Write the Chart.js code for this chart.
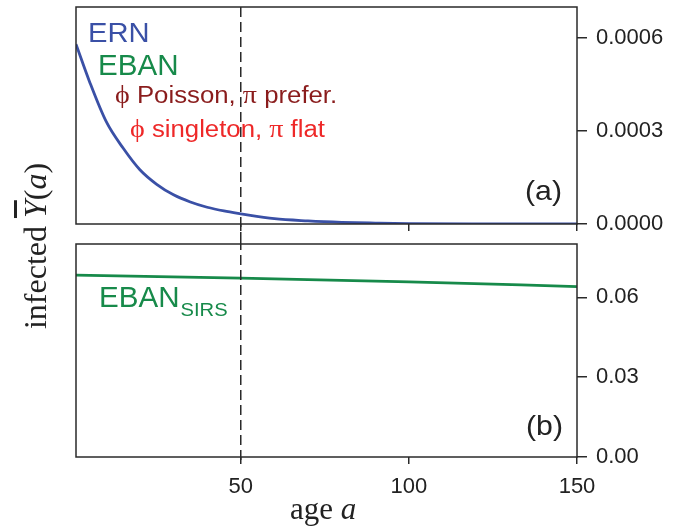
<!DOCTYPE html>
<html lang="en">
<head>
    <meta charset="UTF-8">
    <title>Infected by age</title>
    <script src="https://cdn.jsdelivr.net/npm/chart.js"></script>
    <style>
        body { margin: 0; background: #fff; }
        .container { position: relative; width: 695px; height: 530px; background: #fff; overflow: hidden; }
        canvas { position: absolute; left: 0; }
        #chartA { top: 0; }
        #chartB { top: 240px; }
        .ytitle {
            position: absolute; left: -115px; top: 226px; width: 300px; height: 40px;
            line-height: 40px; text-align: center; transform: rotate(-90deg);
            font-family: 'Liberation Serif', 'DejaVu Serif', serif; font-size: 32px; color: #222;
        }
        .ytitle .bar { text-decoration: overline; font-style: italic; }
    </style>
</head>
<body>
    <div class="container">
        <canvas id="chartA" width="695" height="240"></canvas>
        <canvas id="chartB" width="695" height="290"></canvas>
        <div class="ytitle">infected <span class="bar">Y</span>(<i>a</i>)</div>
    </div>
    <script>
        // values
        const ages = [1, 5, 10, 15, 20, 25, 30, 35, 40, 45, 50, 60, 70, 80, 90, 100, 125, 150];
        const ernValues = [0.00058, 0.00046, 0.00033, 0.000245, 0.000175, 0.000128, 0.000094, 0.000071,
            0.000054, 0.000042, 0.000033, 0.000017, 0.00001, 0.0000055, 0.000003, 0.0000012, 0.0000004, 0.0000001];
        const sirsAges = [1, 50, 100, 150];
        const sirsValues = [0.0683, 0.0672, 0.0658, 0.0640];
        const ageTicks = [50, 100, 150];
        const ticksA = [0, 0.0003, 0.0006];
        const ticksB = [0, 0.03, 0.06];
        const markerAge = 50;

        const SANS = "'Liberation Sans', Arial, sans-serif";
        const SERIF = "'Liberation Serif', 'DejaVu Serif', serif";
        const INK = '#2a2a2a';

        // text in the original is a little wider than it is tall, so stretch it a bit
        function drawRuns(ctx, x, y, runs, sx) {
            ctx.save();
            ctx.translate(x, y);
            ctx.scale(sx || 1, 1);
            let cx = 0;
            runs.forEach(r => {
                ctx.font = r.font;
                ctx.fillStyle = r.color;
                ctx.fillText(r.t, cx, 0);
                cx += ctx.measureText(r.t).width;
            });
            ctx.restore();
            return cx * (sx || 1);
        }

        function framePlugin(dashFrom, dashTo, drawTexts) {
            return {
                id: 'frame',
                afterDatasetsDraw(chart) {
                    const ctx = chart.ctx;
                    const a = chart.chartArea;
                    const xp = chart.scales.x.getPixelForValue(markerAge);
                    ctx.save();
                    ctx.strokeStyle = INK;
                    ctx.lineWidth = 1.5;
                    ctx.setLineDash([10, 5]);
                    ctx.beginPath();
                    ctx.moveTo(xp, dashFrom(a));
                    ctx.lineTo(xp, dashTo(a));
                    ctx.stroke();
                    ctx.setLineDash([]);
                    ctx.strokeRect(a.left, a.top, a.right - a.left, a.bottom - a.top);
                    ctx.textBaseline = 'alphabetic';
                    drawTexts(ctx, a);
                    ctx.restore();
                }
            };
        }

        function xScale(showLabels, h) {
            return {
                type: 'linear', min: 1, max: 150,
                afterBuildTicks: s => { s.ticks = ageTicks.map(v => ({ value: v })); },
                grid: { drawOnChartArea: false, tickLength: 7, color: INK, lineWidth: 1.5 },
                border: { display: false },
                ticks: {
                    display: showLabels, padding: 10, maxRotation: 0,
                    color: '#222', font: { family: SANS, size: 22 },
                    callback: v => String(v)
                },
                afterFit: s => { s.height = h; s.paddingLeft = 0; s.paddingRight = 0; }
            };
        }

        function yScale(max, ticks, digits) {
            return {
                position: 'right', min: 0, max: max,
                afterBuildTicks: s => { s.ticks = ticks.map(v => ({ value: v })); },
                grid: { drawOnChartArea: false, tickLength: 10, color: INK, lineWidth: 1.5 },
                border: { display: false },
                ticks: {
                    padding: 9, color: '#222', font: { family: SANS, size: 22 },
                    callback: v => v.toFixed(digits)
                },
                afterFit: s => { s.width = 118; s.paddingTop = 0; s.paddingBottom = 0; }
            };
        }

        new Chart(document.getElementById('chartA'), {
            type: 'line',
            data: {
                datasets: [{
                    label: 'ERN',
                    data: ages.map((a, i) => ({ x: a, y: ernValues[i] })),
                    borderColor: '#3a50a6', borderWidth: 2.8, pointRadius: 0,
                    cubicInterpolationMode: 'monotone', fill: false
                }]
            },
            options: {
                responsive: false, animation: false,
                layout: { padding: { left: 76, top: 7, right: 0, bottom: 0 } },
                plugins: { legend: { display: false }, tooltip: { enabled: false } },
                scales: { x: xScale(false, 16), y: yScale(0.0007, ticksA, 4) }
            },
            plugins: [framePlugin(a => a.top, a => 240, (ctx, a) => {
                drawRuns(ctx, 88, 42, [{ t: 'ERN', font: '27px ' + SANS, color: '#3a50a6' }], 1.08);
                drawRuns(ctx, 98, 75, [{ t: 'EBAN', font: '29px ' + SANS, color: '#178a4a' }], 1.02);
                drawRuns(ctx, 115, 103, [
                    { t: 'ϕ', font: '25px ' + SERIF, color: '#8a1c1c' },
                    { t: ' Poisson, ', font: '23px ' + SANS, color: '#8a1c1c' },
                    { t: 'π', font: '25px ' + SERIF, color: '#8a1c1c' },
                    { t: ' prefer.', font: '23px ' + SANS, color: '#8a1c1c' }
                ], 1.12);
                drawRuns(ctx, 130, 137, [
                    { t: 'ϕ', font: '25px ' + SERIF, color: '#ee2828' },
                    { t: ' singleton, ', font: '23px ' + SANS, color: '#ee2828' },
                    { t: 'π', font: '25px ' + SERIF, color: '#ee2828' },
                    { t: ' flat', font: '23px ' + SANS, color: '#ee2828' }
                ], 1.12);
                drawRuns(ctx, 525, 200, [{ t: '(a)', font: '28px ' + SANS, color: '#222' }], 1.08);
            })]
        });

        new Chart(document.getElementById('chartB'), {
            type: 'line',
            data: {
                datasets: [{
                    label: 'EBAN SIRS',
                    data: sirsAges.map((a, i) => ({ x: a, y: sirsValues[i] })),
                    borderColor: '#178a4a', borderWidth: 2.8, pointRadius: 0,
                    cubicInterpolationMode: 'monotone', fill: false
                }]
            },
            options: {
                responsive: false, animation: false,
                layout: { padding: { left: 76, top: 4, right: 0, bottom: 0 } },
                plugins: { legend: { display: false }, tooltip: { enabled: false } },
                scales: { x: xScale(true, 73), y: yScale(0.08, ticksB, 2) }
            },
            plugins: [framePlugin(a => 0, a => a.bottom + 6, (ctx, a) => {
                const w = drawRuns(ctx, 99, 67, [{ t: 'EBAN', font: '29px ' + SANS, color: '#178a4a' }], 1.02);
                drawRuns(ctx, 99 + w + 1, 76, [{ t: 'SIRS', font: '18px ' + SANS, color: '#178a4a' }], 1.12);
                drawRuns(ctx, 526, 195, [{ t: '(b)', font: '28px ' + SANS, color: '#222' }], 1.08);
                drawRuns(ctx, 290, 279, [
                    { t: 'age ', font: '31px ' + SERIF, color: '#222' },
                    { t: 'a', font: 'italic 31px ' + SERIF, color: '#222' }
                ]);
            })]
        });
    </script>
</body>
</html>
